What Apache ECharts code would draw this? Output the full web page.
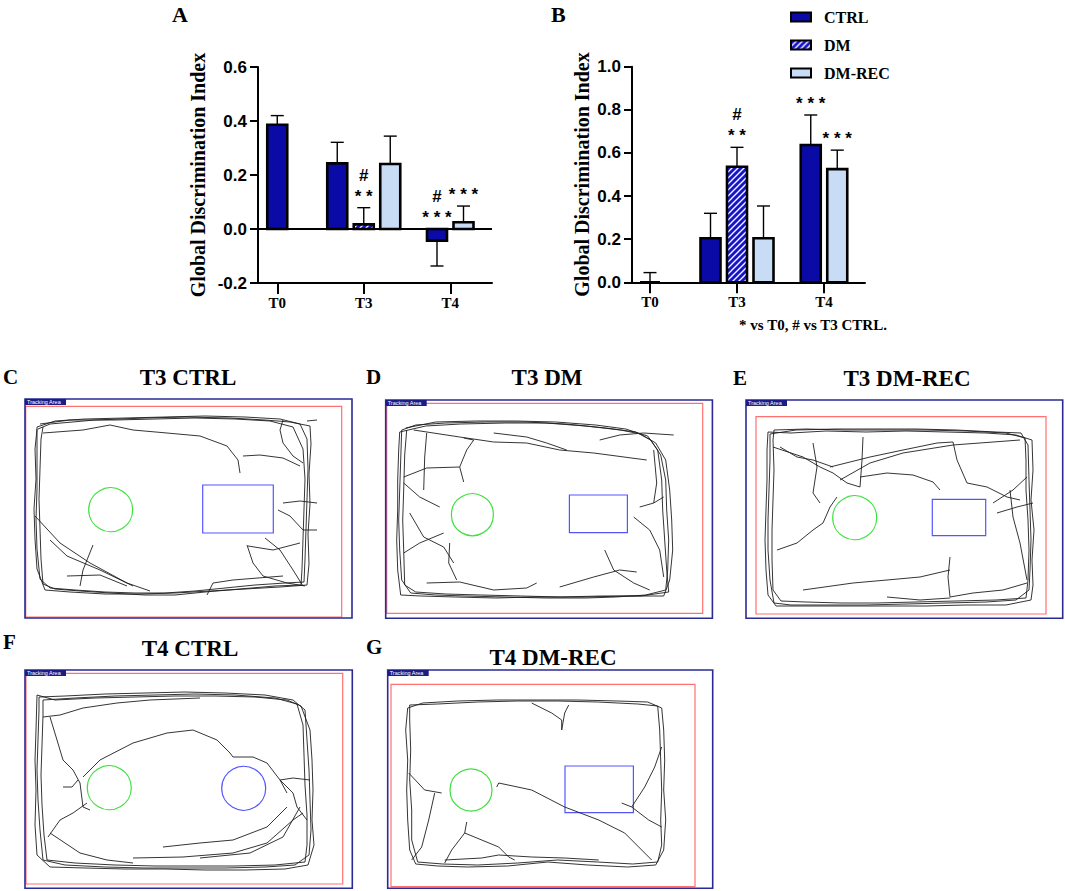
<!DOCTYPE html>
<html>
<head>
<meta charset="utf-8">
<script src="https://cdn.jsdelivr.net/npm/echarts@6.0.0/dist/echarts.min.js"></script>
<style>
  html, body { margin: 0; padding: 0; background: #fff; }
  #chart { width: 1065px; height: 891px; }
</style>
</head>
<body>
<div id="chart"></div>
<script>
// ---- panel A / B : global discrimination index ----
var catsA = ['T0', 'T3', 'T4'];
var ctrlA = [0.386, 0.243, -0.043];
var ctrlErrA = [0.034, 0.078, 0.094];
var dmA = [null, 0.017, null];
var dmErrA = [null, 0.062, null];
var recA = [null, 0.241, 0.025];
var recErrA = [null, 0.103, 0.06];
var sigCtrlA = ['', '', '#\n* * *'];
var sigDmA = ['', '#\n* *', ''];
var sigRecA = ['', '', '* * *'];
var ticksA = [-0.2, 0.6, 0.2]; // min, max, step

var catsB = ['T0', 'T3', 'T4'];
var ctrlB = [0, 0.204, 0.637];
var ctrlErrB = [0.045, 0.116, 0.139];
var dmB = [null, 0.536, null];
var dmErrB = [null, 0.09, null];
var recB = [null, 0.204, 0.525];
var recErrB = [null, 0.15, 0.088];
var sigCtrlB = ['', '', '* * *'];
var sigDmB = ['', '#\n* *', ''];
var sigRecB = ['', '', '* * *'];
var ticksB = [0, 1, 0.2];

var groups = ['CTRL', 'DM', 'DM-REC'];

// ---- panels C-G : tracking plots (arena units, origin = top-left of tracking area) ----
var panelLetters = ['C', 'D', 'E', 'F', 'G'];
var panelTitles = ['T3 CTRL', 'T3 DM', 'T3 DM-REC', 'T4 CTRL', 'T4 DM-REC'];
var arenaSize = [[327, 219], [326.7, 218.3], [316.7, 218.3], [327.3, 218.3], [325, 218.3]];
var limitZone = [[0.7, 7.3, 316.7, 218], [1, 3.3, 317, 213.3], [10, 16.7, 300, 214], [1, 3.3, 317.7, 214], [3.3, 14.3, 307.3, 216.7]];
var familiarObj = [[85.7, 110.7, 22], [86.7, 114.7, 21], [108.7, 117.7, 22], [84.3, 117.7, 22], [83.3, 120, 21]];
// 4 numbers = square object, 3 numbers = round object
var novelObj = [[177.7, 86, 248.3, 134], [183.7, 95, 241.7, 132.7], [186.3, 99.3, 239.7, 135.7], [218.7, 118.3, 22], [177.3, 96, 245.7, 142.7]];

var trackC = [
  [[12,28],[30,22],[60,20],[100,19],[140,18],[180,17],[220,18],[255,20],[275,25],[282,40],[283,70],[282,100],[281,130],[280,160],[279,183],[260,184],[230,186],[200,189],[170,192],[140,194],[110,194],[80,193],[50,191],[25,189],[15,180],[12,150],[11,120],[12,90],[12,60],[12,28]],
  [[15,25],[45,21],[90,21],[130,20],[170,19],[210,20],[245,22],[268,28],[278,50],[280,80],[279,110],[278,140],[277,170],[276,186],[250,187],[215,190],[180,193],[150,196],[120,196],[85,194],[55,192],[30,190],[18,185],[16,160],[15,130],[14,100],[15,70],[16,40],[18,28]],
  [[13,30],[25,25],[70,21],[120,19],[160,18],[205,19],[240,21],[265,23],[285,27],[286,45],[284,75],[285,105],[283,135],[284,165],[282,186],[255,188],[220,190],[185,192],[150,194],[115,195],[80,195],[45,193],[20,191],[12,170],[10,140],[9,110],[11,80],[10,50],[12,30]],
  [[18,34],[58,31],[85,26],[108,31],[142,34],[175,37],[202,47],[213,61],[215,74]],
  [[218,57],[235,56],[258,59],[275,67]],
  [[258,21],[255,31],[258,44],[268,57],[278,64]],
  [[282,22],[292,21]],
  [[10,117],[35,144],[65,164],[102,184],[125,192]],
  [[25,141],[42,157],[75,171],[108,187]],
  [[68,146],[58,171],[55,187]],
  [[222,146],[228,164],[238,177],[262,184],[280,187]],
  [[240,139],[255,151],[268,171],[278,187]],
  [[258,104],[275,102],[292,104]],
  [[253,111],[265,117],[278,131],[292,131]],
  [[223,147],[248,151],[275,144]],
  [[42,177],[75,176],[102,187]],
  [[182,196],[188,184],[208,181],[258,177]]
];
var trackD = [
  [[16,30],[30,25],[60,23],[100,22],[140,22],[180,24],[220,28],[250,32],[265,40],[275,55],[280,80],[281,110],[283,140],[282,170],[280,190],[260,195],[230,197],[200,198],[160,198],[120,197],[80,196],[50,195],[25,193],[16,180],[14,150],[13,120],[14,90],[15,60],[16,30]],
  [[20,28],[50,22],[90,21],[130,21],[170,22],[210,25],[240,29],[262,36],[272,50],[276,80],[277,110],[279,140],[281,170],[283,192],[255,196],[215,196],[175,197],[135,196],[95,195],[60,194],[30,192],[19,185],[18,150],[17,120],[18,90],[19,55],[21,30]],
  [[14,32],[40,26],[75,24],[120,23],[160,23],[200,26],[235,30],[255,34],[270,43],[280,60],[284,90],[286,120],[287,150],[284,180],[278,196],[240,196],[200,197],[150,197],[110,198],[70,197],[35,196],[15,195],[12,170],[11,140],[12,110],[12,80],[13,50],[14,32]],
  [[28,30],[74,37],[108,42],[141,43],[174,50],[208,53],[261,60]],
  [[108,33],[141,37],[161,43],[181,50]],
  [[214,40],[234,35],[258,33],[288,35]],
  [[18,77],[41,68],[74,67],[78,82]],
  [[41,33],[39,57],[38,90]],
  [[78,38],[88,40],[81,50],[74,67]],
  [[18,83],[34,97],[54,107]],
  [[24,113],[38,137],[58,147],[68,163]],
  [[18,153],[34,143],[58,133]],
  [[64,143],[63,163],[71,180]],
  [[41,183],[74,182],[108,190],[141,188],[151,183]],
  [[254,107],[268,103],[278,97]],
  [[248,117],[264,130],[274,150],[278,177]],
  [[219,150],[228,170],[248,183],[264,190]],
  [[174,187],[208,177],[234,170],[251,172]],
  [[268,50],[271,83],[268,103]]
];
var trackE = [
  [[24,34],[50,30],[90,29],[130,29],[170,29],[210,30],[250,32],[275,33],[282,45],[283,80],[284,110],[285,140],[284,170],[283,190],[270,200],[240,202],[200,203],[160,204],[120,205],[80,205],[45,205],[28,203],[24,180],[22,150],[22,120],[23,90],[24,60],[24,34]],
  [[28,30],[60,29],[100,30],[140,30],[180,30],[220,31],[260,33],[279,38],[280,60],[280,90],[282,120],[283,150],[282,180],[280,198],[250,200],[210,201],[170,202],[130,203],[95,203],[60,202],[35,201],[27,190],[26,160],[26,130],[27,100],[28,70],[27,40],[28,30]],
  [[22,32],[45,33],[80,31],[120,32],[160,31],[200,32],[240,33],[270,35],[286,40],[287,70],[285,100],[288,130],[286,160],[287,185],[285,200],[260,205],[220,205],[180,206],[140,206],[100,206],[65,206],[30,206],[22,195],[20,170],[19,140],[20,110],[21,80],[21,50],[22,32]],
  [[27,47],[57,57],[74,67],[87,73],[101,83],[114,87]],
  [[84,67],[124,57],[157,50],[191,43],[207,42]],
  [[94,80],[124,63],[157,53],[207,45],[274,40]],
  [[117,37],[116,60],[114,87]],
  [[67,43],[71,67],[67,93],[74,103]],
  [[114,77],[141,73],[167,75],[187,82],[194,90]],
  [[207,42],[211,60],[221,83]],
  [[221,83],[241,87],[261,97],[274,100]],
  [[31,150],[51,143],[67,130],[77,123],[84,107],[91,97]],
  [[34,47],[51,57],[67,60],[87,67]],
  [[247,103],[267,90],[281,77]],
  [[251,113],[271,107],[287,103]],
  [[264,90],[267,117],[274,143],[281,180]],
  [[57,190],[107,183],[141,180],[174,177],[204,170]],
  [[204,157],[202,177],[204,197]],
  [[204,197],[227,193],[257,190],[281,183]],
  [[141,197],[174,200],[204,198]]
];
var trackF = [
  [[14,27],[40,26],[80,24],[120,23],[160,22],[200,23],[240,25],[268,30],[280,40],[282,70],[284,100],[285,130],[286,160],[284,185],[270,195],[240,197],[200,198],[160,198],[120,198],[80,197],[40,195],[18,190],[15,160],[13,130],[12,100],[13,70],[14,40],[14,27]],
  [[18,30],[50,28],[90,26],[130,25],[170,24],[210,25],[250,28],[272,34],[278,55],[279,85],[280,115],[282,145],[282,175],[280,192],[250,195],[210,196],[170,196],[130,196],[90,195],[50,193],[22,190],[19,165],[17,135],[16,105],[17,75],[18,45],[18,30]],
  [[12,25],[30,30],[70,28],[110,27],[150,26],[190,26],[230,27],[262,30],[276,36],[285,60],[287,90],[288,120],[287,150],[289,175],[283,195],[260,199],[220,200],[180,200],[140,199],[100,199],[60,198],[25,197],[12,185],[10,155],[11,120],[10,90],[11,60],[12,25]],
  [[58,107],[75,90],[108,73],[142,63],[168,60],[192,70],[205,83],[208,87]],
  [[208,87],[228,87],[242,93],[255,110],[262,123]],
  [[25,47],[32,70],[38,90],[48,100],[55,113],[58,137],[65,140]],
  [[38,117],[47,117],[53,110]],
  [[18,47],[35,45],[58,38],[92,33],[125,30],[175,28]],
  [[23,167],[35,150],[48,143],[62,133]],
  [[25,163],[55,183],[82,190],[108,193]],
  [[138,177],[175,173],[208,170],[242,157],[262,137]],
  [[108,188],[158,187],[208,183],[242,173],[268,150],[278,143]],
  [[175,188],[225,183],[258,167],[275,137]],
  [[255,110],[268,123],[272,137],[282,150]],
  [[255,110],[268,108],[285,110]]
];
var trackG = [
  [[20,38],[35,33],[70,31],[110,30],[150,30],[190,30],[230,31],[260,32],[274,38],[276,60],[277,90],[276,120],[278,150],[276,180],[268,195],[240,197],[200,195],[160,192],[120,196],[80,197],[50,196],[28,194],[22,180],[20,150],[19,120],[20,90],[18,60],[20,38]],
  [[22,35],[50,34],[90,32],[130,31],[170,31],[210,32],[250,34],[270,36],[272,60],[273,90],[274,120],[273,150],[274,175],[270,192],[245,194],[210,192],[170,190],[130,193],[90,195],[55,194],[30,192],[24,170],[24,140],[22,110],[23,80],[22,50],[22,35]],
  [[144,33],[164,43],[174,50],[174,60],[177,43],[181,35]],
  [[109,117],[111,113],[144,120],[177,137],[211,150],[237,163],[264,190]],
  [[21,103],[37,120],[54,123]],
  [[47,123],[41,150],[34,177],[24,190]],
  [[79,152],[77,163],[64,180],[57,193]],
  [[77,163],[111,177],[121,187],[127,190]],
  [[234,133],[244,137],[261,150],[274,157]],
  [[244,137],[257,117],[267,97],[274,77]],
  [[57,190],[94,188],[111,185],[144,187],[177,188],[211,190]]
];
var tracks = [trackC, trackD, trackE, trackF, trackG];

// ---- styles ----
var CTRL_COLOR = '#0a0aa6';
var DM_COLOR = '#1616c8';
var REC_COLOR = '#c8ddf5';
var SERIF = '"Liberation Serif", "Times New Roman", serif';
var SANS = '"Liberation Sans", Arial, sans-serif';
var BAR_W = 20;
var PITCH = 26.5;

function hatchCanvas() {
  var c = document.createElement('canvas');
  c.width = 6; c.height = 6;
  var g = c.getContext('2d');
  g.fillStyle = DM_COLOR;
  g.fillRect(0, 0, 6, 6);
  g.strokeStyle = '#ffffff';
  g.lineWidth = 1.3;
  g.beginPath();
  g.moveTo(0, 6); g.lineTo(6, 0);
  g.moveTo(-1, 1); g.lineTo(1, -1);
  g.moveTo(5, 7); g.lineTo(7, 5);
  g.stroke();
  return c;
}
var dmPattern = { image: hatchCanvas(), repeat: 'repeat', imageWidth: 6, imageHeight: 6 };
var fills = [CTRL_COLOR, dmPattern, REC_COLOR];

// bars + error bars + significance marks, centred on the bars that exist in each category
function barSeries(cats, valueLists, errLists, sigLists, axisIdx) {
  var out = [];
  valueLists.forEach(function (vals, s) {
    var data = [];
    cats.forEach(function (c, i) {
      if (vals[i] == null) return;
      var present = [];
      valueLists.forEach(function (vl, k) { if (vl[i] != null) present.push(k); });
      data.push([i, vals[i], errLists[s][i], present.indexOf(s), present.length]);
    });
    var sigs = sigLists[s];
    out.push({
      type: 'custom',
      name: groups[s],
      xAxisIndex: axisIdx,
      yAxisIndex: axisIdx,
      itemStyle: { color: fills[s], borderColor: '#000', borderWidth: 2 },
      data: data,
      z: 5,
      renderItem: function (params, api) {
        var cat = api.value(0), v = api.value(1), e = api.value(2);
        var slot = api.value(3), n = api.value(4);
        var base = api.coord([cat, 0]);
        var top = api.coord([cat, v]);
        var dir = v < 0 ? -1 : 1;
        var end = api.coord([cat, v + dir * e]);
        var cx = base[0] + (slot - (n - 1) / 2) * PITCH;
        var y0 = Math.min(base[1], top[1]);
        var h = Math.abs(base[1] - top[1]);
        var children = [
          { type: 'line', shape: { x1: cx, y1: top[1], x2: cx, y2: end[1] }, style: { stroke: '#000', lineWidth: 1.4 } },
          { type: 'line', shape: { x1: cx - 6.5, y1: end[1], x2: cx + 6.5, y2: end[1] }, style: { stroke: '#000', lineWidth: 1.4 } },
          { type: 'rect', shape: { x: cx - BAR_W / 2, y: y0, width: BAR_W, height: h }, style: { fill: fills[s], stroke: '#000', lineWidth: 2.6 } }
        ];
        var sig = sigs[cat];
        if (sig) {
          var yTop = Math.min(end[1], base[1], top[1]);
          children.push({
            type: 'text', x: cx, y: yTop - 1,
            style: { text: sig, textAlign: 'center', textVerticalAlign: 'bottom', font: 'bold 17px ' + SANS, lineHeight: 21, fill: '#000' }
          });
        }
        return { type: 'group', children: children };
      }
    });
  });
  return out;
}

function fmt(v) { return (Math.abs(v) < 1e-9 ? 0 : v).toFixed(1); }

function valueYAxis(grid, t, gap, zeroLine) {
  var lineColors = [];
  for (var v = t[0]; v <= t[1] + 1e-9; v += t[2]) lineColors.push(zeroLine && Math.abs(v) < 1e-9 ? '#000' : 'rgba(0,0,0,0)');
  return {
    gridIndex: grid, type: 'value', min: t[0], max: t[1], interval: t[2],
    name: 'Global Discrimination Index', nameLocation: 'middle', nameGap: gap,
    nameTextStyle: { fontFamily: SERIF, fontWeight: 'bold', fontSize: 20, color: '#000' },
    axisLine: { show: true, lineStyle: { color: '#000', width: 2 } },
    axisTick: { show: true, length: 8, lineStyle: { color: '#000', width: 2 } },
    axisLabel: { formatter: fmt, fontFamily: SANS, fontWeight: 'bold', fontSize: 17, color: '#000', margin: 11 },
    splitLine: { show: zeroLine, lineStyle: { color: lineColors, width: 2 } }
  };
}
function hiddenYAxis(grid, t) {
  return { gridIndex: grid, type: 'value', min: t[0], max: t[1], interval: t[2], show: false };
}
function lineXAxis(grid) {
  return {
    gridIndex: grid, type: 'value', min: 0, max: 1, axisLine: { show: true, onZero: false, lineStyle: { color: '#000', width: 2 } },
    axisTick: { show: false }, axisLabel: { show: false }, splitLine: { show: false }
  };
}
function catXAxis(grid, cats) {
  return {
    gridIndex: grid, type: 'category', data: cats, boundaryGap: true,
    axisLine: { show: false, onZero: false },
    axisTick: { show: true, alignWithLabel: true, length: 11, lineStyle: { color: '#000', width: 2 } },
    axisLabel: { fontFamily: SERIF, fontWeight: 'bold', fontSize: 15, color: '#000', margin: 12 },
    splitLine: { show: false }
  };
}

// tracking panel boxes (page pixels)
var panelBox = [[25, 399], [385.7, 400], [746, 400], [25, 670], [387.7, 670]];
var letterPos = [[3, 377], [366, 377], [733, 378], [3, 642], [366, 647]];
var titlePos = [[188, 377], [547, 377], [907, 378], [190, 648], [553, 657]];

var grids = [
  { left: 258, top: 67, width: 234, height: 216 },
  { left: 234, top: 67, width: 259.5, height: 216 },
  { left: 632, top: 66.7, width: 233, height: 215.6 },
  { left: 606.5, top: 66.7, width: 261, height: 215.6 }
];
var xAxes = [lineXAxis(0), catXAxis(1, catsA), lineXAxis(2), catXAxis(3, catsB)];
var yAxes = [valueYAxis(0, ticksA, 50, true), hiddenYAxis(1, ticksA), valueYAxis(2, ticksB, 40, false), hiddenYAxis(3, ticksB)];

var series = []
  .concat(barSeries(catsA, [ctrlA, dmA, recA], [ctrlErrA, dmErrA, recErrA], [sigCtrlA, sigDmA, sigRecA], 1))
  .concat(barSeries(catsB, [ctrlB, dmB, recB], [ctrlErrB, dmErrB, recErrB], [sigCtrlB, sigDmB, sigRecB], 3));

panelLetters.forEach(function (L, p) {
  var gi = 4 + p;
  var W = arenaSize[p][0], H = arenaSize[p][1];
  grids.push({ left: panelBox[p][0], top: panelBox[p][1], width: W, height: H });
  xAxes.push({ gridIndex: gi, type: 'value', min: 0, max: W, show: false });
  yAxes.push({ gridIndex: gi, type: 'value', min: 0, max: H, inverse: true, show: false });
  series.push({
    type: 'custom', xAxisIndex: gi, yAxisIndex: gi, silent: true, z: 2,
    data: [[0, 0]],
    renderItem: function (params, api) {
      var tl = api.coord([0, 0]), br = api.coord([W, H]);
      var rz = limitZone[p];
      var r1 = api.coord([rz[0], rz[1]]), r2 = api.coord([rz[2], rz[3]]);
      var fo = familiarObj[p];
      var fc = api.coord([fo[0], fo[1]]), fr = api.size([fo[2], 0])[0];
      var no = novelObj[p];
      var novel;
      if (no.length === 3) {
        var nc = api.coord([no[0], no[1]]);
        novel = { type: 'circle', shape: { cx: nc[0], cy: nc[1], r: api.size([no[2], 0])[0] }, style: { fill: 'none', stroke: '#5555ff', lineWidth: 1.2 } };
      } else {
        var n1 = api.coord([no[0], no[1]]), n2 = api.coord([no[2], no[3]]);
        novel = { type: 'rect', shape: { x: n1[0], y: n1[1], width: n2[0] - n1[0], height: n2[1] - n1[1] }, style: { fill: 'none', stroke: '#5555ff', lineWidth: 1.2 } };
      }
      var lw = api.size([41, 0])[0];
      return {
        type: 'group',
        children: [
          { type: 'rect', shape: { x: r1[0], y: r1[1], width: r2[0] - r1[0], height: r2[1] - r1[1] }, style: { fill: 'none', stroke: '#ff7070', lineWidth: 1.2 } },
          { type: 'rect', shape: { x: tl[0], y: tl[1], width: br[0] - tl[0], height: br[1] - tl[1] }, style: { fill: 'none', stroke: '#2a2a94', lineWidth: 1.6 } },
          { type: 'circle', shape: { cx: fc[0], cy: fc[1], r: fr }, style: { fill: 'none', stroke: '#3fe03f', lineWidth: 1.2 } },
          novel,
          { type: 'rect', shape: { x: tl[0], y: tl[1], width: lw, height: 6 }, style: { fill: '#1c1c86' } },
          { type: 'text', x: tl[0] + 2, y: tl[1] + 3.3, style: { text: 'Tracking Area', font: '5.5px ' + SANS, fill: '#fff', textVerticalAlign: 'middle' } }
        ]
      };
    }
  });
  tracks[p].forEach(function (path) {
    series.push({
      type: 'line', xAxisIndex: gi, yAxisIndex: gi, data: path, symbol: 'none', silent: true, z: 3,
      lineStyle: { color: '#1e1e1e', width: 0.9 }
    });
  });
});

var texts = [
  { t: 'A', x: 172, y: 14, size: 22, align: 'left' },
  { t: 'B', x: 551, y: 14, size: 22, align: 'left' },
  { t: '* vs T0, # vs T3 CTRL.', x: 813, y: 325, size: 15, align: 'center' }
];
panelLetters.forEach(function (L, p) {
  texts.push({ t: L, x: letterPos[p][0], y: letterPos[p][1], size: 21, align: 'left' });
  texts.push({ t: panelTitles[p], x: titlePos[p][0], y: titlePos[p][1], size: 23, align: 'center' });
});

var chart = echarts.init(document.getElementById('chart'), null, { renderer: 'svg' });
chart.setOption({
  animation: false,
  backgroundColor: '#fff',
  grid: grids.map(function (g) { g.containLabel = false; g.outerBoundsMode = 'none'; return g; }),
  xAxis: xAxes,
  yAxis: yAxes,
  legend: {
    data: groups, orient: 'vertical', left: 790, top: 9, padding: 0,
    icon: 'rect', itemWidth: 20, itemHeight: 9, itemGap: 12,
    itemStyle: { borderColor: '#000', borderWidth: 2 },
    textStyle: { fontFamily: SERIF, fontWeight: 'bold', fontSize: 16, color: '#000', padding: [0, 0, 0, 8] },
    selectedMode: false
  },
  graphic: texts.map(function (o) {
    return {
      type: 'text', x: o.x, y: o.y, silent: true,
      style: { text: o.t, font: 'bold ' + o.size + 'px ' + SERIF, fill: '#000', textAlign: o.align, textVerticalAlign: 'middle' }
    };
  }),
  series: series
});
</script>
</body>
</html>
